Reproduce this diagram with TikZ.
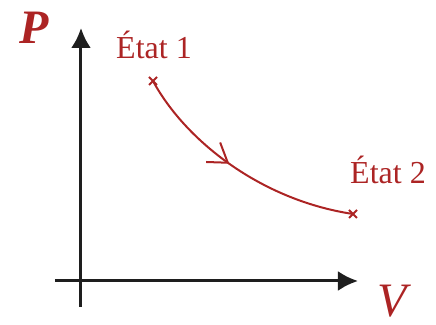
\documentclass[tikz,border=0pt]{standalone}
\usepackage{fontspec}
\setmainfont{Liberation Serif}
\usetikzlibrary{arrows.meta,decorations.markings}
\definecolor{PVRed}{RGB}{172,36,36}
\definecolor{PVAxis}{RGB}{30,30,30}

\begin{document}
\begin{tikzpicture}[x=0.5pt,y=-0.5pt,
  axis/.style={draw=PVAxis,line width=1.5pt,-{Latex[length=10pt,width=10pt]}},
  curve/.style={draw=PVRed,line width=1pt,postaction={decorate},
                decoration={markings,mark=at position 0.45 with
                {\draw[PVRed,line width=1pt,line join=miter] (-9pt,6pt) -- (0pt,0pt) -- (-9pt,-6pt);}}},
  statelabel/.style={text=PVRed,font=\fontsize{16}{18}\selectfont,inner sep=0pt},
  axislabel/.style={text=PVRed,font=\fontsize{24}{28}\selectfont,inner sep=0pt},
  cross/.style={draw=PVRed,line width=1pt}
]
\useasboundingbox (0,0) rectangle (436,325);
% axes
\coordinate (ybot) at (81,307);
\coordinate (ytop) at (81,28);
\coordinate (xleft) at (55,281);
\coordinate (xright) at (358,281);
\draw[axis] (ybot) -- (ytop);
\draw[axis] (xleft) -- (xright);
\node[axislabel] (P) at (34,28) {\textbf{\textit{P}}};
\node[axislabel] (V) at (394,301) {\textit{V}};
% states
\coordinate (s1) at (153,81);
\coordinate (s2) at (353,214);
\draw[cross] ([shift={(-4,-4)}]s1) -- ([shift={(4,4)}]s1) ([shift={(-4,4)}]s1) -- ([shift={(4,-4)}]s1);
\draw[cross] ([shift={(-4,-4)}]s2) -- ([shift={(4,4)}]s2) ([shift={(-4,4)}]s2) -- ([shift={(4,-4)}]s2);
\node[statelabel] (e1) at (154,45) {État 1};
\node[statelabel] (e2) at (388,170) {État 2};
\draw[curve] (s1) .. controls (185,140) and (260,200) .. (s2);
\end{tikzpicture}
\end{document}
